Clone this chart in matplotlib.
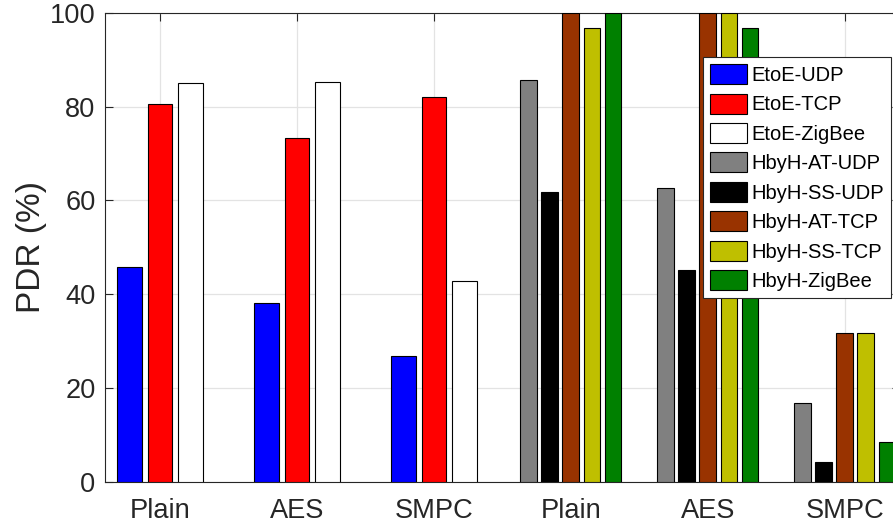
import matplotlib
matplotlib.use('Agg')
import matplotlib.pyplot as plt
import numpy as np

plt.rcParams['font.family'] = ['Liberation Sans', 'DejaVu Sans']

# data
groups = ['Plain', 'AES', 'SMPC', 'Plain', 'AES', 'SMPC']

etoe_names = ['EtoE-UDP', 'EtoE-TCP', 'EtoE-ZigBee']
etoe_colors = ['#0000ff', '#ff0000', '#ffffff']
etoe_udp = [45.7, 38.2, 26.8]
etoe_tcp = [80.5, 73.3, 82.1]
etoe_zigbee = [85.1, 85.3, 42.9]

hbyh_names = ['HbyH-AT-UDP', 'HbyH-SS-UDP', 'HbyH-AT-TCP', 'HbyH-SS-TCP', 'HbyH-ZigBee']
hbyh_colors = ['#808080', '#000000', '#993300', '#bfbf00', '#008000']
hbyh_at_udp = [85.8, 62.6, 16.7]
hbyh_ss_udp = [61.7, 45.1, 4.2]
hbyh_at_tcp = [100, 100, 31.7]
hbyh_ss_tcp = [96.7, 100, 31.7]
hbyh_zigbee = [100, 96.7, 8.4]

etoe = [etoe_udp, etoe_tcp, etoe_zigbee]
hbyh = [hbyh_at_udp, hbyh_ss_udp, hbyh_at_tcp, hbyh_ss_tcp, hbyh_zigbee]

fig = plt.figure(figsize=(8.93, 5.29), dpi=100)
# axes runs a little past the right edge, like the cropped original
ax = fig.add_axes([105.3/893, 47.5/529, (899.6-105.3)/893, (516-47.5)/529])

dark = '#262626'

# matlab style grouped bars
def grouped(ax, x, series, colors, names):
    n = len(series)
    gw = min(0.8, n/(n+1.5))
    step = gw/n
    for i, (vals, c, lab) in enumerate(zip(series, colors, names)):
        off = (i - (n-1)/2)*step
        ax.bar(x + off, vals, width=0.8*step, color=c, edgecolor='black',
               linewidth=0.8, label=lab, zorder=3)

grouped(ax, np.arange(1, 4), etoe, etoe_colors, etoe_names)
grouped(ax, np.arange(4, 7), hbyh, hbyh_colors, hbyh_names)

ax.set_xlim(0.6, 6.4)
ax.set_ylim(0, 100)
ax.set_xticks(np.arange(1, 7))
ax.set_xticklabels(groups)
ax.set_yticks([0, 20, 40, 60, 80, 100])
ax.grid(True, color='#e3e3e3', linewidth=0.9, zorder=0)
ax.set_axisbelow(True)
ax.tick_params(direction='in', length=6, width=0.8, colors=dark, labelsize=19.6,
               top=True, right=True)
ax.tick_params(axis='x', pad=12)
ax.tick_params(axis='y', pad=7)
for s in ax.spines.values():
    s.set_color(dark)
    s.set_linewidth(0.8)
ax.set_ylabel('PDR (%)', fontsize=24, color=dark, labelpad=2)

leg = ax.legend(loc='upper right', bbox_to_anchor=(891/893, 1-57/529),
                bbox_transform=fig.transFigure, fontsize=14.5, fancybox=False,
                edgecolor=dark, framealpha=1, handlelength=1.85, handleheight=1.15,
                handletextpad=0.2, labelspacing=0.43, borderpad=0.35, borderaxespad=0)
leg.get_frame().set_linewidth(0.8)

fig.savefig('out.png', dpi=100)
